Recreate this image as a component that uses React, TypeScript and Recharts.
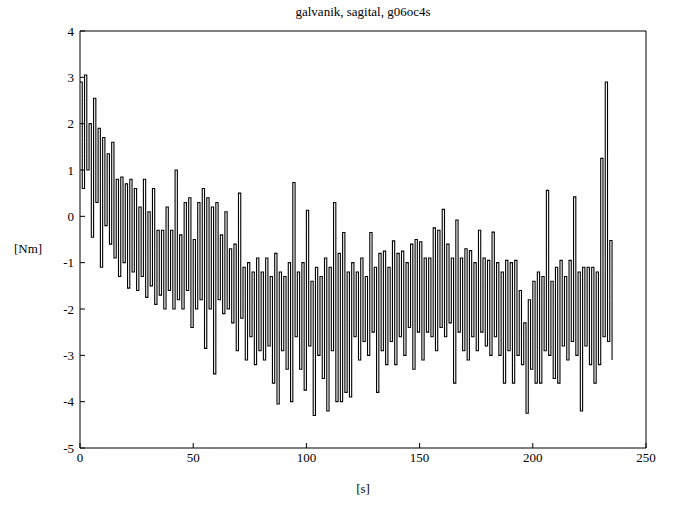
import React from 'react';
import { LineChart, Line, XAxis, YAxis } from 'recharts';

// peak / trough readings, one per second
const torque0to59 = [
  2.9, 0.6, 3.05, 1.0, 2.0, -0.45, 2.55, 0.3, 1.9, -1.1,
  1.7, -0.2, 1.35, -0.6, 1.6, -0.9, 0.8, -1.3, 0.85, -1.0,
  0.7, -1.55, 0.8, -1.2, 0.6, -1.6, 0.2, -1.3, 0.8, -1.75,
  0.1, -1.5, 0.6, -1.9, -0.3, -1.7, -0.3, -2.0, 0.2, -1.6,
  -0.3, -2.0, 1.0, -1.8, -0.4, -2.0, 0.3, -1.6, 0.4, -2.4,
  -0.5, -2.0, 0.3, -1.8, 0.6, -2.85, 0.4, -2.0, 0.2, -3.4,
];
const torque60to119 = [
  0.3, -1.8, -0.4, -2.1, 0.1, -2.0, -0.7, -2.3, -0.6, -2.9,
  0.5, -2.2, -1.1, -3.1, -1.0, -2.6, -1.2, -3.2, -0.9, -2.9,
  -1.2, -3.1, -0.9, -2.8, -1.3, -3.6, -0.8, -4.05, -1.2, -2.9,
  -1.3, -3.3, -1.0, -4.0, 0.73, -2.6, -1.2, -3.3, -1.0, -3.75,
  0.13, -2.8, -1.4, -4.3, -1.1, -3.0, -1.3, -3.5, -0.9, -4.2,
  -1.1, -2.9, 0.3, -4.0, -0.8, -4.0, -0.35, -3.8, -1.2, -3.9,
];
const torque120to179 = [
  -1.0, -2.6, -1.2, -3.1, -0.9, -2.7, -1.3, -3.0, -0.35, -2.5,
  -1.1, -3.8, -0.8, -2.9, -0.75, -3.2, -1.1, -2.7, -0.53, -3.2,
  -0.8, -2.6, -0.75, -3.0, -1.0, -2.4, -0.6, -3.3, -0.5, -2.5,
  -0.55, -3.1, -0.9, -2.5, -0.9, -2.6, -0.25, -2.9, -0.3, -2.4,
  0.15, -2.6, -0.6, -2.3, -0.9, -3.6, -0.08, -2.5, -0.9, -2.9,
  -0.7, -3.1, -0.74, -2.6, -1.0, -2.9, -0.3, -2.5, -0.9, -2.8,
];
const torque180to235 = [
  -0.95, -3.0, -0.34, -2.6, -1.0, -3.0, -1.2, -3.6, -0.95, -2.9,
  -1.0, -3.6, -0.95, -3.0, -1.6, -3.2, -2.3, -4.25, -1.8, -3.3,
  -1.4, -3.6, -1.2, -3.6, -1.3, -2.9, 0.56, -3.0, -1.4, -3.5,
  -1.1, -3.6, -0.95, -2.8, -1.3, -3.1, -0.95, -2.7, 0.42, -3.0,
  -1.2, -4.2, -1.1, -2.8, -1.1, -3.2, -1.1, -3.6, -1.2, -3.2,
  1.25, -2.6, 2.9, -2.7, -0.52, -3.1,
];

const xTicks = [0, 50, 100, 150, 200, 250];
const yTicks = [-5, -4, -3, -2, -1, 0, 1, 2, 3, 4];

const torque = [...torque0to59, ...torque60to119, ...torque120to179, ...torque180to235];
const data = torque.map((v, i) => ({ t: i, v }));

const font = '"Liberation Serif", "DejaVu Serif", serif';

export default function App() {
  return (
    <div style={{ position: 'absolute', left: 0, top: 0, width: 675, height: 510, background: '#fff', fontFamily: font }}>
      <div style={{ position: 'absolute', top: 4, left: 80, width: 566, textAlign: 'center', fontSize: 13 }}>
        galvanik, sagital, g06oc4s
      </div>
      <div style={{ position: 'absolute', top: 241, left: 14, fontSize: 13 }}>[Nm]</div>
      <div style={{ position: 'absolute', top: 481, left: 80, width: 566, textAlign: 'center', fontSize: 13 }}>[s]</div>
      <LineChart width={675} height={510} data={data} margin={{ top: 30, right: 28, bottom: 32, left: 40 }}>
        <XAxis
          dataKey="t"
          type="number"
          domain={[0, 250]}
          ticks={xTicks}
          tickSize={-5}
          tickMargin={10}
          stroke="#000"
          height={30}
          tick={{ fill: '#000', fontSize: 13, fontFamily: font }}
        />
        <XAxis
          xAxisId="top"
          orientation="top"
          dataKey="t"
          type="number"
          domain={[0, 250]}
          ticks={xTicks}
          tickSize={-5}
          tick={false}
          stroke="#000"
          height={1}
        />
        <YAxis
          type="number"
          domain={[-5, 4]}
          ticks={yTicks}
          tickSize={-5}
          tickMargin={11}
          stroke="#000"
          width={40}
          tick={{ fill: '#000', fontSize: 13, fontFamily: font }}
        />
        <YAxis
          yAxisId="right"
          orientation="right"
          type="number"
          domain={[-5, 4]}
          ticks={yTicks}
          tickSize={-5}
          tick={false}
          stroke="#000"
          width={1}
        />
        <Line
          dataKey="v"
          type="stepAfter"
          stroke="#000"
          strokeWidth={1.1}
          dot={false}
          isAnimationActive={false}
        />
      </LineChart>
    </div>
  );
}
